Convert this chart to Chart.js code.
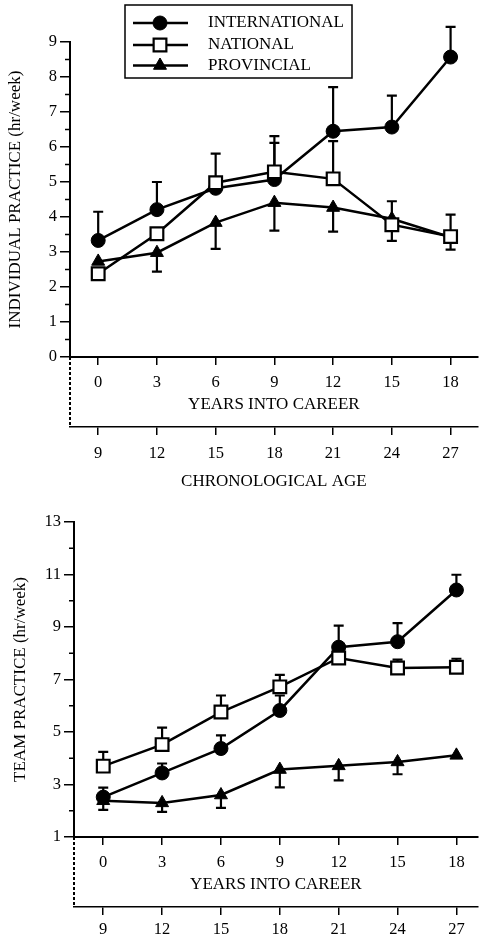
<!DOCTYPE html>
<html>
<head>
<meta charset="utf-8">
<script src="https://cdn.jsdelivr.net/npm/chart.js@4.4.1/dist/chart.umd.min.js"></script>
<style>
  html, body { margin: 0; padding: 0; background: #fff; }
  #wrap { position: relative; width: 489px; height: 944px; overflow: hidden; }
  .panel { position: absolute; left: 0; width: 489px; }
  #top { top: 0; height: 495px; }
  #bottom { top: 495px; height: 449px; }
</style>
</head>
<body>
<div id="wrap">
  <div class="panel" id="top"><canvas id="chartIndividual"></canvas></div>
  <div class="panel" id="bottom"><canvas id="chartTeam"></canvas></div>
</div>
<script>
// x positions (years into career) and the matching age labels
const careerYears = [0, 3, 6, 9, 12, 15, 18];
const ageTicks = [9, 12, 15, 18, 21, 24, 27];
const groupNames = ['INTERNATIONAL', 'NATIONAL', 'PROVINCIAL'];

// individual practice (hr/week)
const intlIndividual = [3.33, 4.21, 4.82, 5.07, 6.45, 6.57, 8.57];
const natIndividual = [2.38, 3.52, 4.98, 5.29, 5.09, 3.78, 3.44];
const provIndividual = [2.73, 2.98, 3.84, 4.41, 4.27, 3.95, 3.42];
// ends of the error bars, null = no bar
const intlIndividualHi = [4.15, 5.0, null, 6.12, 7.71, 7.47, 9.43];
const natIndividualHi = [null, null, 5.81, 6.31, 6.17, null, 4.07];
const natIndividualLo = [null, null, null, null, null, 3.32, null];
const provIndividualHi = [null, null, null, null, null, 4.45, null];
const provIndividualLo = [null, 2.44, 3.09, 3.61, 3.58, null, 3.07];

// team practice (hr/week)
const intlTeam = [2.52, 3.44, 4.37, 5.82, 8.23, 8.44, 10.41];
const natTeam = [3.7, 4.52, 5.76, 6.72, 7.82, 7.44, 7.47];
const provTeam = [2.38, 2.3, 2.6, 3.57, 3.71, 3.86, 4.11];
const intlTeamHi = [2.88, 3.8, 4.87, 6.39, 9.05, 9.15, 10.99];
const natTeamHi = [4.24, 5.17, 6.39, 7.18, null, 7.76, 7.79];
const provTeamLo = [2.03, 1.96, 2.11, 2.89, 3.16, 3.39, null];

Chart.defaults.font.family = '"Liberation Serif", "Times New Roman", serif';
Chart.defaults.color = '#000';

const toPoints = (vals) => careerYears.map((x, i) => ({ x: x, y: vals[i] }));

const markerStyles = [
  { pointStyle: 'circle', pointRadius: 7, pointBackgroundColor: '#000', pointBorderWidth: 1, order: 1 },
  { pointStyle: 'rect', pointRadius: 9, pointBackgroundColor: '#fff', pointBorderWidth: 2.2, order: 0 },
  { pointStyle: 'triangle', pointRadius: 7.5, pointBackgroundColor: '#000', pointBorderWidth: 1, order: 2 },
];

function makeDatasets(series, hi, lo) {
  return series.map((vals, i) => Object.assign({
    label: groupNames[i],
    data: toPoints(vals),
    borderColor: '#000',
    pointBorderColor: '#000',
    borderWidth: 2.5,
    tension: 0,
    errHi: hi[i],
    errLo: lo[i],
  }, markerStyles[i]));
}

/* error bars, drawn under the markers */
const errorBars = {
  id: 'errorBars',
  beforeDatasetsDraw(chart) {
    const ctx = chart.ctx;
    const y = chart.scales.y;
    ctx.save();
    ctx.strokeStyle = '#000';
    ctx.lineWidth = 2.2;
    chart.data.datasets.forEach((ds, i) => {
      const meta = chart.getDatasetMeta(i);
      meta.data.forEach((pt, j) => {
        [ds.errHi, ds.errLo].forEach((arr) => {
          if (!arr || arr[j] == null) return;
          const yEnd = y.getPixelForValue(arr[j]);
          ctx.beginPath();
          ctx.moveTo(pt.x, pt.y);
          ctx.lineTo(pt.x, yEnd);
          ctx.moveTo(pt.x - 5, yEnd);
          ctx.lineTo(pt.x + 5, yEnd);
          ctx.stroke();
        });
      });
    });
    ctx.restore();
  },
};

/* short minor ticks on the y axis + dotted link between the two x axes */
const axisExtras = {
  id: 'axisExtras',
  afterDraw(chart, args, opts) {
    const ctx = chart.ctx;
    const y = chart.scales.y;
    const x2 = chart.scales.x2;
    ctx.save();
    ctx.strokeStyle = '#000';
    ctx.lineWidth = 1.5;
    ctx.beginPath();
    for (let v = opts.minorFrom; v <= y.max; v += opts.minorStep) {
      const py = y.getPixelForValue(v);
      ctx.moveTo(y.right - 5, py);
      ctx.lineTo(y.right, py);
    }
    ctx.stroke();
    ctx.lineWidth = 2;
    ctx.setLineDash([3, 2]);
    ctx.beginPath();
    ctx.moveTo(chart.chartArea.left, chart.chartArea.bottom);
    ctx.lineTo(chart.chartArea.left, x2.top);
    ctx.stroke();
    ctx.restore();
  },
};

/* boxed legend with line + marker samples */
const lineLegend = {
  id: 'lineLegend',
  afterDraw(chart, args, opts) {
    if (!opts.show) return;
    const ctx = chart.ctx;
    ctx.save();
    ctx.fillStyle = '#fff';
    ctx.fillRect(opts.left, opts.top, opts.width, opts.height);
    ctx.strokeStyle = '#000';
    ctx.lineWidth = 1.5;
    ctx.strokeRect(opts.left, opts.top, opts.width, opts.height);
    ctx.font = '17px "Liberation Serif", serif';
    ctx.textBaseline = 'middle';
    chart.data.datasets.forEach((ds, i) => {
      const ry = opts.rows[i];
      ctx.strokeStyle = '#000';
      ctx.lineWidth = 2.5;
      ctx.beginPath();
      ctx.moveTo(opts.left + 8, ry);
      ctx.lineTo(opts.left + 63, ry);
      ctx.stroke();
      ctx.fillStyle = ds.pointBackgroundColor;
      ctx.lineWidth = ds.pointBorderWidth;
      Chart.helpers.drawPoint(ctx, {
        pointStyle: ds.pointStyle,
        radius: ds.pointRadius,
        rotation: 0,
        borderWidth: ds.pointBorderWidth,
      }, opts.left + 35, ry);
      ctx.fillStyle = '#000';
      ctx.fillText(ds.label, opts.left + 83, ry);
    });
    ctx.restore();
  },
};

function axisGrid(len) {
  return { drawOnChartArea: false, color: '#000', lineWidth: 1.5, tickLength: len };
}

function buildChart(canvasId, cfg) {
  const shift = ageTicks[0] - careerYears[0];
  return new Chart(document.getElementById(canvasId), {
    type: 'line',
    data: { datasets: cfg.datasets },
    plugins: [errorBars, axisExtras, lineLegend],
    options: {
      responsive: true,
      maintainAspectRatio: false,
      animation: false,
      layout: { padding: { top: cfg.padTop, bottom: cfg.padBottom, left: 0, right: 0 } },
      plugins: {
        legend: { display: false },
        tooltip: { enabled: false },
        axisExtras: { minorFrom: cfg.minorFrom, minorStep: cfg.minorStep },
        lineLegend: cfg.legend,
      },
      scales: {
        x: {
          type: 'linear',
          position: 'bottom',
          weight: 0,
          min: cfg.xMin,
          max: cfg.xMax,
          afterBuildTicks: (s) => { s.ticks = careerYears.map((v) => ({ value: v })); },
          afterFit: (s) => { s.height = 70; },
          grid: axisGrid(8),
          border: { color: '#000', width: 2 },
          ticks: { padding: 8, font: { size: 16.5 }, maxRotation: 0 },
          title: { display: true, text: 'YEARS INTO CAREER', font: { size: 17 }, padding: { top: 0, bottom: 12 } },
        },
        x2: {
          type: 'linear',
          position: 'bottom',
          weight: 1,
          min: cfg.xMin + shift,
          max: cfg.xMax + shift,
          afterBuildTicks: (s) => { s.ticks = ageTicks.map((v) => ({ value: v })); },
          afterFit: (s) => { s.height = cfg.ageAxisHeight; },
          grid: axisGrid(8),
          border: { color: '#000', width: 1.5 },
          ticks: { padding: cfg.ageTickPad, font: { size: 16.5 }, maxRotation: 0 },
          title: { display: cfg.ageTitle, text: 'CHRONOLOGICAL AGE', font: { size: 17 }, padding: { top: 0, bottom: 1 } },
        },
        y: {
          min: cfg.yMin,
          max: cfg.yMax,
          afterFit: (s) => { s.width = cfg.yWidth; },
          grid: axisGrid(10),
          border: { color: '#000', width: 2 },
          ticks: { stepSize: cfg.yStep, padding: 3, font: { size: 16.5 } },
          title: { display: true, text: cfg.yTitle, font: { size: 17 }, padding: { top: cfg.yTitlePad, bottom: 0 } },
        },
      },
    },
  });
}

buildChart('chartIndividual', {
  datasets: makeDatasets(
    [intlIndividual, natIndividual, provIndividual],
    [intlIndividualHi, natIndividualHi, provIndividualHi],
    [null, natIndividualLo, provIndividualLo]
  ),
  padTop: 42, padBottom: 2,
  xMin: -1.44, xMax: 19.39,
  yMin: 0, yMax: 9, yStep: 1, minorFrom: 0.5, minorStep: 1,
  yWidth: 70, yTitlePad: 5,
  yTitle: 'INDIVIDUAL PRACTICE (hr/week)',
  ageAxisHeight: 66, ageTitle: true, ageTickPad: 9,
  legend: { show: true, left: 125, top: 5, width: 227, height: 73, rows: [23, 45, 65.5] },
});

buildChart('chartTeam', {
  datasets: makeDatasets(
    [intlTeam, natTeam, provTeam],
    [intlTeamHi, natTeamHi, null],
    [null, null, provTeamLo]
  ),
  padTop: 27, padBottom: 7,
  xMin: -1.49, xMax: 19.09,
  yMin: 1, yMax: 13, yStep: 2, minorFrom: 2, minorStep: 2,
  yWidth: 74, yTitlePad: 10,
  yTitle: 'TEAM PRACTICE (hr/week)',
  ageAxisHeight: 30, ageTitle: false, ageTickPad: 5,
  legend: { show: false },
});
</script>
</body>
</html>
